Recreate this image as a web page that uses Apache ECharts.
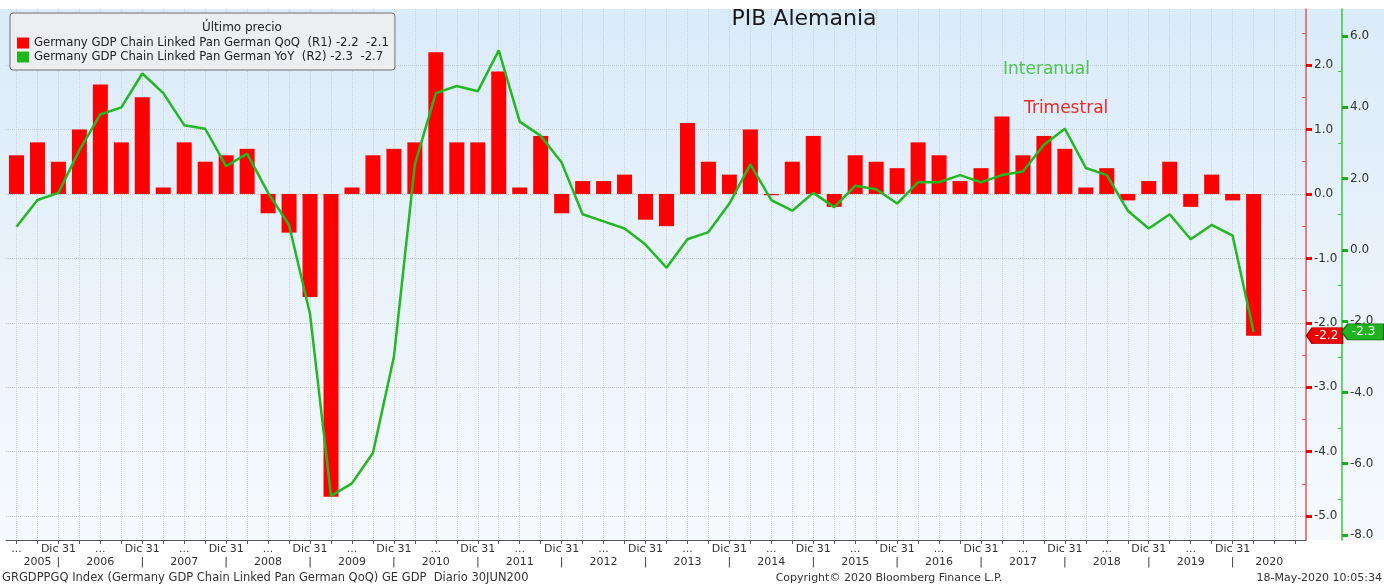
<!DOCTYPE html>
<html>
<head>
<meta charset="utf-8">
<title>PIB Alemania</title>
<script src="https://cdn.jsdelivr.net/npm/echarts@6/dist/echarts.min.js"></script>
<style>
    html, body { margin: 0; padding: 0; background: #fff; }
    #chart { width: 1384px; height: 587px; }
</style>
</head>
<body>
<div id="chart"></div>
<script>
// trimestres del eje (los dos últimos sin dato)
var quarters = [
    '2005Q2', '2005Q3', '2005Q4',
    '2006Q1', '2006Q2', '2006Q3', '2006Q4',
    '2007Q1', '2007Q2', '2007Q3', '2007Q4',
    '2008Q1', '2008Q2', '2008Q3', '2008Q4',
    '2009Q1', '2009Q2', '2009Q3', '2009Q4',
    '2010Q1', '2010Q2', '2010Q3', '2010Q4',
    '2011Q1', '2011Q2', '2011Q3', '2011Q4',
    '2012Q1', '2012Q2', '2012Q3', '2012Q4',
    '2013Q1', '2013Q2', '2013Q3', '2013Q4',
    '2014Q1', '2014Q2', '2014Q3', '2014Q4',
    '2015Q1', '2015Q2', '2015Q3', '2015Q4',
    '2016Q1', '2016Q2', '2016Q3', '2016Q4',
    '2017Q1', '2017Q2', '2017Q3', '2017Q4',
    '2018Q1', '2018Q2', '2018Q3', '2018Q4',
    '2019Q1', '2019Q2', '2019Q3', '2019Q4',
    '2020Q1', '2020Q2', '2020Q3'
];
// Trimestral (QoQ, eje R1)
var qoq = [
    0.6, 0.8, 0.5,
    1.0, 1.7, 0.8, 1.5,
    0.1, 0.8, 0.5, 0.6,
    0.7, -0.3, -0.6, -1.6,
    -4.7, 0.1, 0.6, 0.7,
    0.8, 2.2, 0.8, 0.8,
    1.9, 0.1, 0.9, -0.3,
    0.2, 0.2, 0.3, -0.4,
    -0.5, 1.1, 0.5, 0.3,
    1.0, -0.02, 0.5, 0.9,
    -0.2, 0.6, 0.5, 0.4,
    0.8, 0.6, 0.2, 0.4,
    1.2, 0.6, 0.9, 0.7,
    0.1, 0.4, -0.1, 0.2,
    0.5, -0.2, 0.3, -0.1,
    -2.2
];
// Interanual (YoY, eje R2)
var yoy = [
    0.65, 1.4, 1.6,
    2.8, 3.8, 4.0, 4.95,
    4.4, 3.5, 3.4, 2.35,
    2.7, 1.6, 0.7, -1.8,
    -6.9, -6.55, -5.7, -3.0,
    2.4, 4.4, 4.6, 4.45,
    5.6, 3.6, 3.2, 2.45,
    1.0, 0.8, 0.6, 0.15,
    -0.5, 0.3, 0.5, 1.3,
    2.4, 1.4, 1.1, 1.6,
    1.2, 1.8, 1.7, 1.3,
    1.9, 1.9, 2.1, 1.9,
    2.1, 2.2, 2.95, 3.4,
    2.3, 2.1, 1.1, 0.6,
    1.0, 0.3, 0.7, 0.4,
    -2.3
];
var redTicks = [-5, -4, -3, -2, -1, 0, 1, 2];
var redMinor = [-4.5, -3.5, -2.5, -1.5, -0.5, 0.5, 1.5, 2.5];
var greenTicks = [-8, -6, -4, -2, 0, 2, 4, 6];
var greenMinor = [-7, -5, -3, -1, 1, 3, 5];
var seriesNames = ['Germany GDP Chain Linked Pan German QoQ', 'Germany GDP Chain Linked Pan German YoY'];
var legendTail = ['(R1) -2.2  -2.1', '(R2) -2.3  -2.7'];
var monthEnd = 'Dic 31';

var font = 'DejaVu Sans';
var chart = echarts.init(document.getElementById('chart'));

// etiquetas del eje x: "..." a mitad de año, "Dic 31" a fin de año, año debajo
var quarterIdx = [];
var labelText = {};
for (var i = 0; i < quarters.length; i++) {
    quarterIdx.push(i);
    if (i >= qoq.length) continue;
    var yr = quarters[i].slice(0, 4);
    var q = quarters[i].slice(4);
    if (q == 'Q4') labelText[i] = monthEnd + '\n|';
    if (q == 'Q2') labelText[i] = i == 0 ? '...' : '...\n' + yr;
}
labelText[1] = '\n' + quarters[1].slice(0, 4);
labelText[59.75] = '\n' + quarters[quarters.length - 1].slice(0, 4);
var labelPos = Object.keys(labelText).map(Number).sort(function (a, b) { return a - b; });

var last = qoq.length - 1;
var tagPath = 'path://M0,8 L6,0 L40,0 L40,16 L6,16 Z';

var minR = -5.37, maxR = 2.87;
var minG = -8.14, maxG = 6.76;

function tickLabel(v) {
    return v.toFixed(1);
}

chart.setOption({
    animation: false,
    grid: { left: 6, right: 78, top: 9, bottom: 47 },
    legend: {
        left: 10,
        top: 13,
        orient: 'vertical',
        padding: [23, 6, 6, 7],
        itemGap: 0,
        itemWidth: 12,
        itemHeight: 11,
        icon: 'rect',
        selectedMode: false,
        backgroundColor: '#eceef1',
        borderColor: '#6e6e6e',
        borderWidth: 1,
        borderRadius: 3,
        textStyle: { fontFamily: font, fontSize: 11.7, color: '#222', lineHeight: 14, width: 352 },
        data: seriesNames,
        formatter: function (name) {
            return name + '  ' + legendTail[seriesNames.indexOf(name)];
        }
    },
    xAxis: {
        type: 'value',
        min: -0.5,
        max: quarters.length - 0.5,
        axisLine: { onZero: false, lineStyle: { color: '#555', width: 1 } },
        axisTick: { customValues: quarterIdx, length: 4, lineStyle: { color: '#555' } },
        axisLabel: {
            customValues: labelPos,
            formatter: function (v) { return labelText[v] || ''; },
            fontFamily: font,
            fontSize: 11,
            color: '#333',
            lineHeight: 13,
            margin: 3
        },
        splitLine: { show: true, lineStyle: { type: 'dotted', color: '#cbd2d9' } }
    },
    yAxis: [{
        // R1 rojo
        type: 'value',
        position: 'right',
        min: minR,
        max: maxR,
        axisLine: { show: true, onZero: false, lineStyle: { color: '#e25a5a', width: 1.5 } },
        axisTick: { show: true, customValues: redTicks, length: 6, lineStyle: { color: '#ee0000', width: 3 } },
        axisLabel: { customValues: redTicks, formatter: tickLabel, fontFamily: font, fontSize: 12, color: '#333', margin: 8 },
        splitLine: { show: true, lineStyle: { type: 'dotted', color: '#c3cad1' } }
    }, {
        // R2 verde
        type: 'value',
        position: 'right',
        offset: 36,
        min: minG,
        max: maxG,
        axisLine: { show: true, onZero: false, lineStyle: { color: '#3cc43c', width: 1.5 } },
        axisTick: { show: true, customValues: greenTicks, length: 6, lineStyle: { color: '#16b016', width: 3 } },
        axisLabel: { customValues: greenTicks, formatter: tickLabel, fontFamily: font, fontSize: 12, color: '#333', margin: 8 },
        splitLine: { show: false }
    }, {
        type: 'value',
        position: 'right',
        min: minR,
        max: maxR,
        axisLine: { show: false, onZero: false },
        axisTick: { show: true, inside: true, customValues: redMinor, length: 4, lineStyle: { color: '#e25a5a' } },
        axisLabel: { show: false },
        splitLine: { show: false }
    }, {
        type: 'value',
        position: 'right',
        offset: 36,
        min: minG,
        max: maxG,
        axisLine: { show: false, onZero: false },
        axisTick: { show: true, inside: true, customValues: greenMinor, length: 4, lineStyle: { color: '#3cc43c' } },
        axisLabel: { show: false },
        splitLine: { show: false }
    }],
    series: [{
        name: seriesNames[0],
        type: 'bar',
        yAxisIndex: 0,
        barWidth: 15,
        itemStyle: { color: '#ff0000' },
        data: qoq.map(function (v, i) { return [i, v]; }),
        markPoint: {
            symbol: tagPath,
            symbolSize: [36, 16],
            symbolOffset: [71, 0],
            itemStyle: { color: '#f20000', borderColor: '#a00000', borderWidth: 1 },
            label: { show: true, color: '#fff', fontFamily: font, fontSize: 12, offset: [2, 0] },
            data: [{ coord: [last, qoq[last]], value: qoq[last] }]
        }
    }, {
        name: seriesNames[1],
        type: 'line',
        yAxisIndex: 1,
        symbol: 'none',
        z: 3,
        itemStyle: { color: '#1db81d' },
        lineStyle: { color: '#22b822', width: 2.5 },
        data: yoy.map(function (v, i) { return [i, v]; }),
        markPoint: {
            symbol: tagPath,
            symbolSize: [42, 16],
            symbolOffset: [109, 0],
            itemStyle: { color: '#1fb41f', borderColor: '#0a700a', borderWidth: 1 },
            label: { show: true, color: '#fff', fontFamily: font, fontSize: 12, offset: [1, 0] },
            data: [{ coord: [last, yoy[last]], value: yoy[last] }]
        }
    }],
    graphic: [{
        type: 'rect',
        z: -100,
        silent: true,
        shape: { x: 0, y: 9, width: 1384, height: 531 },
        style: {
            fill: new echarts.graphic.LinearGradient(0, 0, 0, 1, [
                { offset: 0, color: '#daebf9' },
                { offset: 1, color: '#f7fafd' }
            ])
        }
    }, {
        type: 'text', z: 100, left: 202, top: 22,
        style: { text: 'Último precio', font: '12px "DejaVu Sans"', fill: '#222', textAlign: 'center' }
    }, {
        type: 'text', z: 100, x: 804, y: 19,
        style: { text: 'PIB Alemania', font: '22px "DejaVu Sans"', fill: '#1a1a1a', textAlign: 'center', textVerticalAlign: 'middle' }
    }, {
        type: 'text', z: 100, x: 1003, y: 70,
        style: { text: 'Interanual', font: '17px "DejaVu Sans"', fill: '#4fc44f', textVerticalAlign: 'middle' }
    }, {
        type: 'text', z: 100, x: 1024, y: 109,
        style: { text: 'Trimestral', font: '17px "DejaVu Sans"', fill: '#ea2a2a', textVerticalAlign: 'middle' }
    }, {
        type: 'text', z: 100, x: 2, y: 578,
        style: { text: 'GRGDPPGQ Index (Germany GDP Chain Linked Pan German QoQ) GE GDP  Diario 30JUN200', font: '11.5px "DejaVu Sans"', fill: '#333', textVerticalAlign: 'middle' }
    }, {
        type: 'text', z: 100, x: 889, y: 578,
        style: { text: 'Copyright\u00a9 2020 Bloomberg Finance L.P.', font: '11px "DejaVu Sans"', fill: '#333', textAlign: 'center', textVerticalAlign: 'middle' }
    }, {
        type: 'text', z: 100, x: 1382, y: 578,
        style: { text: '18-May-2020 10:05:34', font: '11px "DejaVu Sans"', fill: '#333', textAlign: 'right', textVerticalAlign: 'middle' }
    }]
});
</script>
</body>
</html>
